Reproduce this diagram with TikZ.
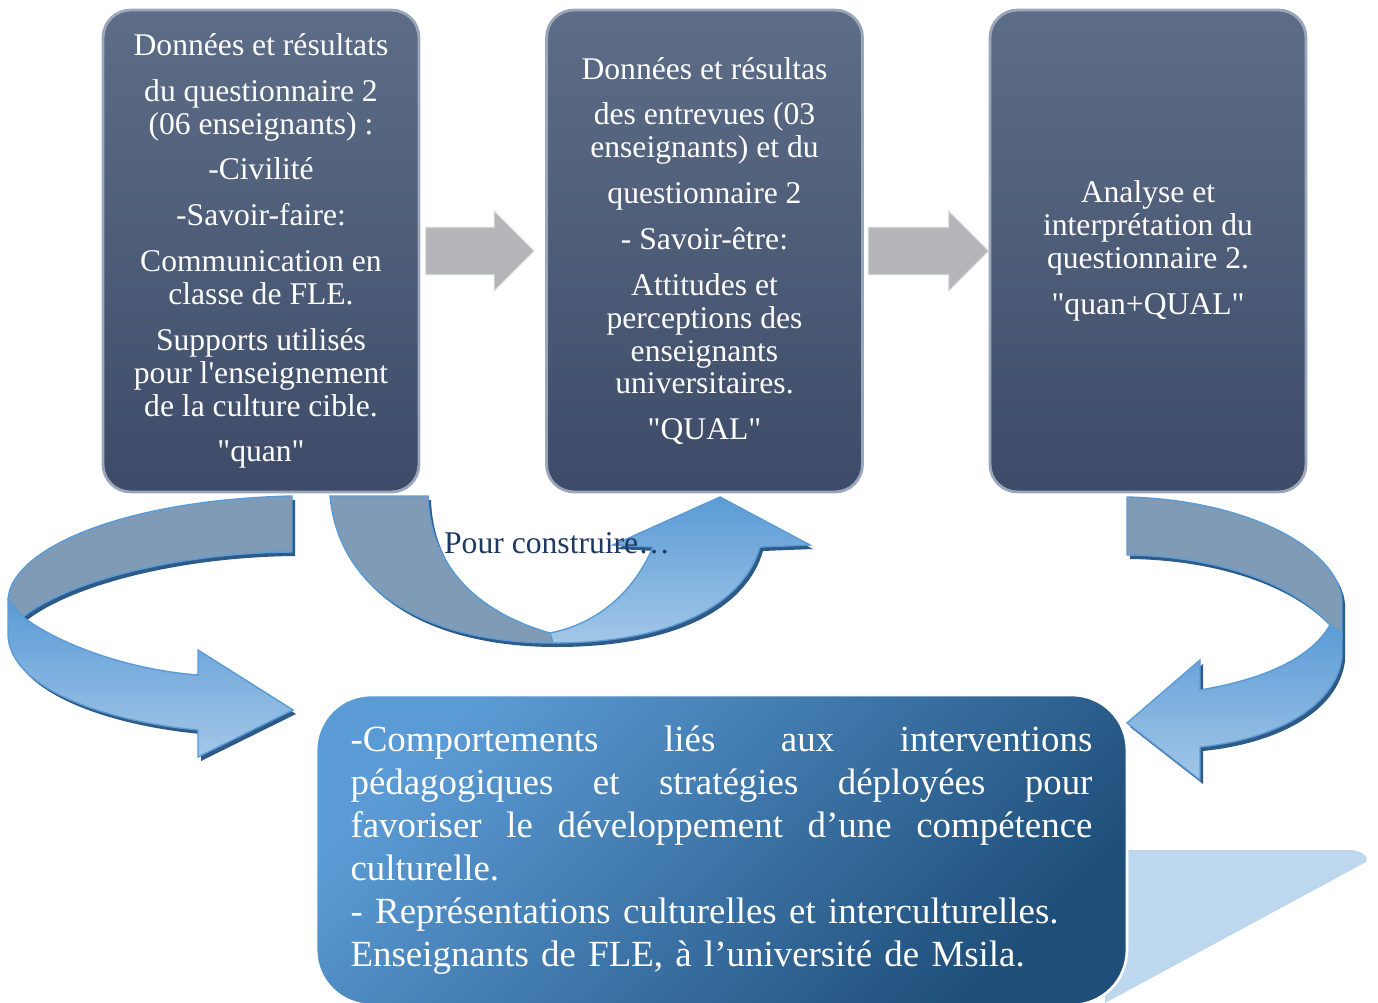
\documentclass[tikz,border=0pt]{standalone}
\usepackage{fontspec}
\setmainfont{Liberation Serif}
\usetikzlibrary{shapes.arrows,calc}
\definecolor{ardoiseH}{HTML}{5E6D87}
\definecolor{ardoiseB}{HTML}{3D4B68}
\definecolor{bordclair}{HTML}{9AA7BA}
\definecolor{gris}{HTML}{B3B5B8}
\definecolor{bleuH}{HTML}{5B9BD5}
\definecolor{bleuF}{HTML}{1F4E79}
\definecolor{bleuP}{HTML}{A3C7E8}
\definecolor{bleuG}{HTML}{7F9BB5}
\definecolor{ombre}{HTML}{2E5A88}
\definecolor{fond}{HTML}{BDD7EE}
\definecolor{marine}{HTML}{1F3864}
% ligne justifiee
\newcommand{\ligne}[1]{\leavevmode\hbox to 14.84cm{#1}}
\begin{document}
\begin{tikzpicture}[>=stealth,x=0.02cm,y=-0.02cm,
	etape/.style={rounded corners=0.55cm,minimum width=6.32cm,minimum height=9.64cm,top color=ardoiseH,bottom color=ardoiseB,draw=bordclair,line width=1.6pt,text=white,align=center,font=\fontsize{18}{18.7}\selectfont,inner sep=0pt},
	fleche/.style={single arrow,single arrow head extend=0.32cm,anchor=tail,fill=gris,draw=gris!60!white,line width=0.6pt,inner sep=0pt,text height=0.92cm,text depth=0pt},
	dos/.style={fill=bleuG,draw=bleuH,line width=0.8pt},
	face/.style={top color=bleuH,bottom color=bleuP,draw=bleuH,line width=0.8pt},
	ombrage/.style={fill=ombre}]
	\useasboundingbox (0,0) rectangle (1378,1003);
	% forme claire derriere le cadre du bas
	\fill[fond] (1110,850) -- (1350,850) to[out=0,in=60] (1366,862) -- (1105,1003) -- cycle;
	\node[rounded corners=1.1cm,minimum width=16.22cm,minimum height=6.2cm,top color=bleuH,bottom color=bleuF,shading angle=45,draw=white,line width=1.5pt,text=white,align=left,text width=14.84cm,font=\fontsize{21}{24.4}\selectfont] (comport) at (721.5,850) {\ligne{-Comportements\hfill liés\hfill aux\hfill interventions}\\
		\ligne{pédagogiques\hfill et\hfill stratégies\hfill déployées\hfill pour}\\
		\ligne{favoriser\hfill le\hfill développement\hfill d’une\hfill compétence}\\
		culturelle.\\
		- Représentations culturelles et interculturelles.\\
		Enseignants de FLE, à l’université de Msila.};
	% fleche courbe gauche
	\fill[ombrage,shift={(3,4)}] (292,496) .. controls (120,500) and (10,550) .. (8,600) -- (8,635) .. controls (10,690) and (110,722) .. (198,730) -- (198,757) -- (293,710) -- (198,650) -- (198,675) .. controls (130,670) and (60,645) .. (23,617) .. controls (70,580) and (180,553) .. (292,552) -- cycle;
	\path[dos] (292,496) .. controls (120,500) and (10,550) .. (8,600) -- (23,617) .. controls (70,580) and (180,553) .. (292,552) -- cycle;
	\path[face] (8,600) -- (8,635) .. controls (10,690) and (110,722) .. (198,730) -- (198,757) -- (293,710) -- (198,650) -- (198,675) .. controls (130,670) and (60,645) .. (23,617) -- cycle;
	% fleche en U
	\fill[ombrage,shift={(3,4)}] (330,496) .. controls (340,600) and (440,643) .. (553,643) .. controls (680,643) and (745,600) .. (760,547) -- (810,545) -- (720,497) -- (613,545) -- (653,547) .. controls (630,600) and (590,625) .. (550,633) .. controls (470,610) and (430,560) .. (428,496) -- cycle;
	\path[dos] (330,496) .. controls (340,600) and (440,643) .. (553,643) -- (550,633) .. controls (470,610) and (430,560) .. (428,496) -- cycle;
	\path[face] (553,643) .. controls (680,643) and (745,600) .. (760,547) -- (810,545) -- (720,497) -- (613,545) -- (653,547) .. controls (630,600) and (590,625) .. (550,633) -- cycle;
	% fleche courbe droite
	\fill[ombrage,shift={(3,4)}] (1127,497) .. controls (1250,500) and (1338,550) .. (1342,600) -- (1342,657) .. controls (1335,710) and (1270,740) .. (1200,747) -- (1200,780) -- (1127,723) -- (1200,660) -- (1200,690) .. controls (1260,680) and (1310,660) .. (1330,625) .. controls (1290,580) and (1210,556) .. (1127,555) -- cycle;
	\path[dos] (1127,497) .. controls (1250,500) and (1338,550) .. (1342,600) -- (1342,633) -- (1330,625) .. controls (1290,580) and (1210,556) .. (1127,555) -- cycle;
	\path[face] (1342,633) -- (1342,657) .. controls (1335,710) and (1270,740) .. (1200,747) -- (1200,780) -- (1127,723) -- (1200,660) -- (1200,690) .. controls (1260,680) and (1310,660) .. (1330,625) -- cycle;
	\node[text=marine,font=\fontsize{18}{20}\selectfont] (construire) at (557,543) {Pour construire…};
	% les trois etapes
	\node[etape] (donnees) at (261,251) {Données et résultats\\[7.4pt]
		du questionnaire 2\\
		(06 enseignants) :\\[7.4pt]
		-Civilité\\[7.4pt]
		-Savoir-faire:\\[7.4pt]
		Communication en\\
		classe de FLE.\\[7.4pt]
		Supports utilisés\\
		pour l\textquotesingle enseignement\\
		de la culture cible.\\[7.4pt]
		\textquotedbl quan\textquotedbl};
	\node[etape] (entrevues) at (704.5,251) {Données et résultas\\[7.4pt]
		des entrevues (03\\
		enseignants) et du\\[7.4pt]
		questionnaire 2\\[7.4pt]
		- Savoir-être:\\[7.4pt]
		Attitudes et\\
		perceptions des\\
		enseignants\\
		universitaires.\\[7.4pt]
		\textquotedbl QUAL\textquotedbl};
	\node[etape] (analyse) at (1148,251) {Analyse et\\
		interprétation du\\
		questionnaire 2.\\[7.4pt]
		\textquotedbl quan+QUAL\textquotedbl};
	\node[fleche,minimum height=2.16cm] (f1) at ($(donnees.east)+(5,0)$) {};
	\node[fleche,minimum height=2.4cm] (f2) at ($(entrevues.east)+(4,0)$) {};
\end{tikzpicture}
\end{document}
